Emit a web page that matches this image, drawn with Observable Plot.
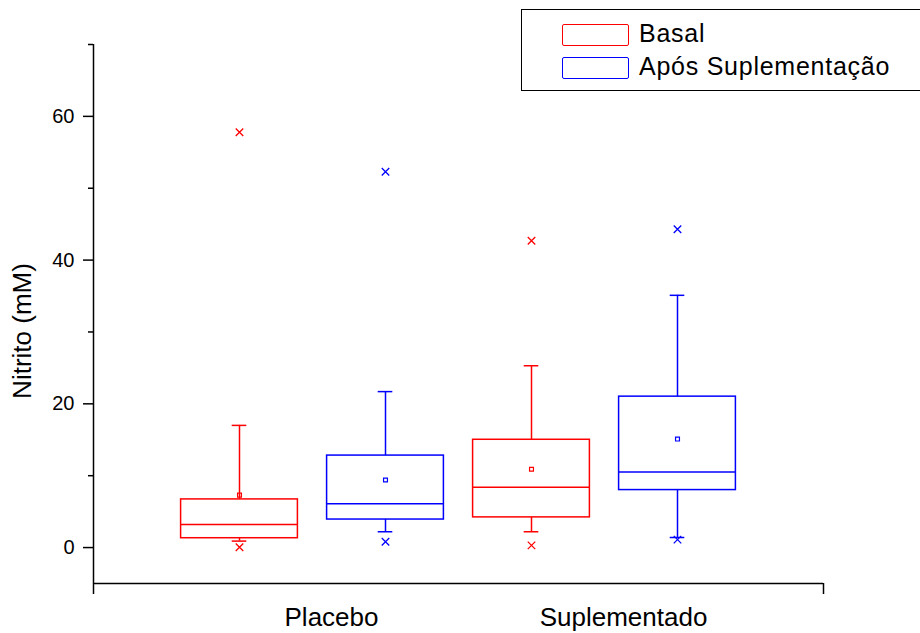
<!DOCTYPE html>
<html>
<head>
<meta charset="utf-8">
<script src="https://cdn.jsdelivr.net/npm/d3@7"></script>
<script src="https://cdn.jsdelivr.net/npm/@observablehq/plot@0.6"></script>
<style>
  html, body { margin: 0; padding: 0; background: #fff; overflow: hidden; }
  #wrap { position: relative; width: 920px; height: 633px; overflow: hidden;
          font-family: "Liberation Sans", Arial, Helvetica, sans-serif; background: #fff; }
  #legend { position: absolute; left: 521px; top: 9px; width: 430px; height: 82px;
            border: 1.5px solid #000; box-sizing: border-box; background: #fff; }
  .sw { position: absolute; left: 40px; width: 67px; height: 22px; box-sizing: border-box;
        border: 1.6px solid; border-radius: 2px; }
  .lt { position: absolute; left: 117px; font-size: 25px; line-height: 25px; color: #000;
        white-space: nowrap; letter-spacing: 0.75px; }
</style>
</head>
<body>
<div id="wrap">
  <div id="chart"></div>
  <div id="legend"></div>
</div>
<script>
// ---- data ----
const groups = ["Placebo", "Placebo", "Suplementado", "Suplementado"];
const series = ["Basal", "Após Suplementação", "Basal", "Após Suplementação"];
const whiskerLow  = [0.9, 2.2, 2.2, 1.4];
const q1          = [1.3, 3.9, 4.2, 8.0];
const median      = [3.2, 6.1, 8.4, 10.5];
const q3          = [6.7, 12.8, 15.0, 21.0];
const whiskerHigh = [17.0, 21.7, 25.3, 35.1];
const mean        = [7.3, 9.4, 10.9, 15.1];
const minVal      = [0.05, 0.8, 0.3, 1.1];
const maxVal      = [57.8, 52.3, 42.7, 44.3];
const groupLabels = ["Placebo", "Suplementado"];
const seriesNames = ["Basal", "Após Suplementação"];
const seriesColors = ["#ff0000", "#0000ff"];
const yTicks = [0, 20, 40, 60];
const yMinorTicks = [10, 30, 50, 70];
const yTitle = "Nitrito (mM)";

// ---- table ----
const rows = series.map((s, i) => ({
  pos: i + 1, group: groups[i], series: s,
  wl: whiskerLow[i], q1: q1[i], med: median[i], q3: q3[i], wh: whiskerHigh[i],
  mean: mean[i], min: minVal[i], max: maxVal[i]
}));
const groupCenters = groupLabels.map(g => d3.mean(rows.filter(r => r.group === g), r => r.pos));
const outliers = rows.flatMap(r => [{pos: r.pos, series: r.series, v: r.min}, {pos: r.pos, series: r.series, v: r.max}]);

const halfBox = 0.4, halfCap = 0.05, lw = 1.5;
const xDomain = [0, rows.length + 1];
const yDomain = [-5, 70];

const chart = Plot.plot({
  width: 920, height: 633,
  marginLeft: 93, marginRight: 97, marginTop: 44, marginBottom: 50,
  style: { fontFamily: "'Liberation Sans', Arial, Helvetica, sans-serif", fontSize: "20px", color: "#000", background: "#fff" },
  x: { domain: xDomain },
  y: { domain: yDomain },
  color: { domain: seriesNames, range: seriesColors },
  marks: [
    // axes lines
    Plot.ruleX([xDomain[0]], { stroke: "#000", strokeWidth: lw }),
    Plot.ruleY([yDomain[0]], { stroke: "#000", strokeWidth: lw }),
    Plot.axisY({ ticks: yTicks, tickSize: 10, tickPadding: 9, fontSize: 20, label: null, strokeWidth: lw }),
    Plot.axisY({ ticks: yMinorTicks, tickSize: 5, tickFormat: () => "", label: null, strokeWidth: lw }),
    Plot.axisX({ ticks: xDomain, tickSize: 11, tickFormat: () => "", label: null, strokeWidth: lw }),
    Plot.axisX({ ticks: groupCenters, tickFormat: (d, i) => groupLabels[i], tickSize: 0, tickPadding: 24, fontSize: 26, dx: 19, label: null }),
    Plot.text([yTitle], { frameAnchor: "left", textAnchor: "middle", lineAnchor: "middle", rotate: -90, dx: -71, dy: 17, fontSize: 26, fill: "#000" }),
    // whiskers
    Plot.ruleX(rows, { x: "pos", y1: "q3", y2: "wh", stroke: "series", strokeWidth: lw }),
    Plot.ruleX(rows, { x: "pos", y1: "wl", y2: "q1", stroke: "series", strokeWidth: lw }),
    Plot.ruleY(rows, { y: "wh", x1: d => d.pos - halfCap, x2: d => d.pos + halfCap, stroke: "series", strokeWidth: lw }),
    Plot.ruleY(rows, { y: "wl", x1: d => d.pos - halfCap, x2: d => d.pos + halfCap, stroke: "series", strokeWidth: lw }),
    // boxes
    Plot.rect(rows, { x1: d => d.pos - halfBox, x2: d => d.pos + halfBox, y1: "q1", y2: "q3", stroke: "series", fill: "none", strokeWidth: lw }),
    Plot.ruleY(rows, { y: "med", x1: d => d.pos - halfBox, x2: d => d.pos + halfBox, stroke: "series", strokeWidth: lw }),
    // mean
    Plot.dot(rows, { x: "pos", y: "mean", symbol: "square", r: 2.2, stroke: "series", fill: "none", strokeWidth: 1.2 }),
    // min / max
    Plot.dot(outliers, { x: "pos", y: "v", symbol: "times", r: 3.5, stroke: "series", strokeWidth: 1.3 })
  ]
});
document.getElementById("chart").appendChild(chart);

// ---- legend ----
const legend = document.getElementById("legend");
seriesNames.forEach((name, i) => {
  const sw = document.createElement("div");
  sw.className = "sw";
  sw.style.top = (13.5 + i * 33) + "px";
  sw.style.borderColor = seriesColors[i];
  legend.appendChild(sw);
  const t = document.createElement("div");
  t.className = "lt";
  t.style.top = (11 + i * 33) + "px";
  t.textContent = name;
  legend.appendChild(t);
});
</script>
</body>
</html>
